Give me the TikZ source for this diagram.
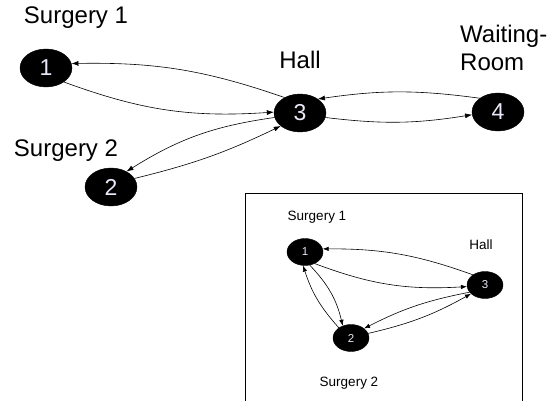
\documentclass[tikz,border=0pt]{standalone}
\usepackage{fontspec}
\setmainfont{Liberation Sans}
\usetikzlibrary{shapes.geometric,arrows.meta}
\definecolor{numcol}{RGB}{232,232,248}
\begin{document}
\begin{tikzpicture}[x=1pt,y=1pt,
  big/.style={ellipse,fill=black,draw=black,minimum width=52pt,minimum height=38pt,inner sep=0pt,text=numcol,font=\fontsize{23}{23}\selectfont},
  small/.style={ellipse,fill=black,draw=black,minimum width=36pt,minimum height=27pt,inner sep=0pt,text=numcol,font=\fontsize{11.5}{12}\selectfont},
  biglabel/.style={font=\fontsize{24}{28}\selectfont,inner sep=0pt},
  smalllabel/.style={font=\fontsize{13.5}{16}\selectfont,inner sep=0pt},
  bigarr/.style={line width=0.6pt,-{Latex[length=7pt,width=5pt]}},
  smallarr/.style={line width=0.6pt,-{Latex[length=6pt,width=4.5pt]}}]
\useasboundingbox (0,0) rectangle (555,400);
% main graph
\node[big] (n1) at (46,332) {1};
\node[big] (n2) at (111,213) {2};
\node[big] (n3) at (300,287) {3};
\node[big] (n4) at (498,288) {4};
\node[biglabel] (l1) at (76,382) {Surgery 1};
\node[biglabel] (l2) at (66,249) {Surgery 2};
\node[biglabel] (l3) at (300,340) {Hall};
\node[biglabel,align=left,anchor=west] (l4) at (460,352) {Waiting-\\Room};
\draw[bigarr] (n1.-38) to[bend right=12] (n3.178);
\draw[bigarr] (n3.135) to[bend right=10] (n1.10);
\draw[bigarr] (n3.190) to[bend right=12] (n2.45);
\draw[bigarr] (n2.20) to[bend right=6] (n3.214);
\draw[bigarr] (n3.-10) to[bend right=8] (n4.186);
\draw[bigarr] (n4.143) to[bend right=8] (n3.38);
% inset
\draw[line width=0.6pt] (245,-2) -- (245,207) -- (522,207) -- (522,-2);
\node[small] (i1) at (305,148) {1};
\node[small] (i2) at (351,62) {2};
\node[small] (i3) at (485,115) {3};
\node[smalllabel] (k1) at (317,183) {Surgery 1};
\node[smalllabel] (k3) at (481,155) {Hall};
\node[smalllabel] (k2) at (349,17) {Surgery 2};
\draw[smallarr] (i1.-50) to[bend right=12] (i3.185);
\draw[smallarr] (i3.140) to[bend right=10] (i1.10);
\draw[smallarr] (i1.-70) to[bend left=15] (i2.124);
\draw[smallarr] (i2.140) to[bend left=12] (i1.-98);
\draw[smallarr] (i3.205) to[bend right=8] (i2.36);
\draw[smallarr] (i2.15) to[bend right=8] (i3.212);
\end{tikzpicture}
\end{document}
